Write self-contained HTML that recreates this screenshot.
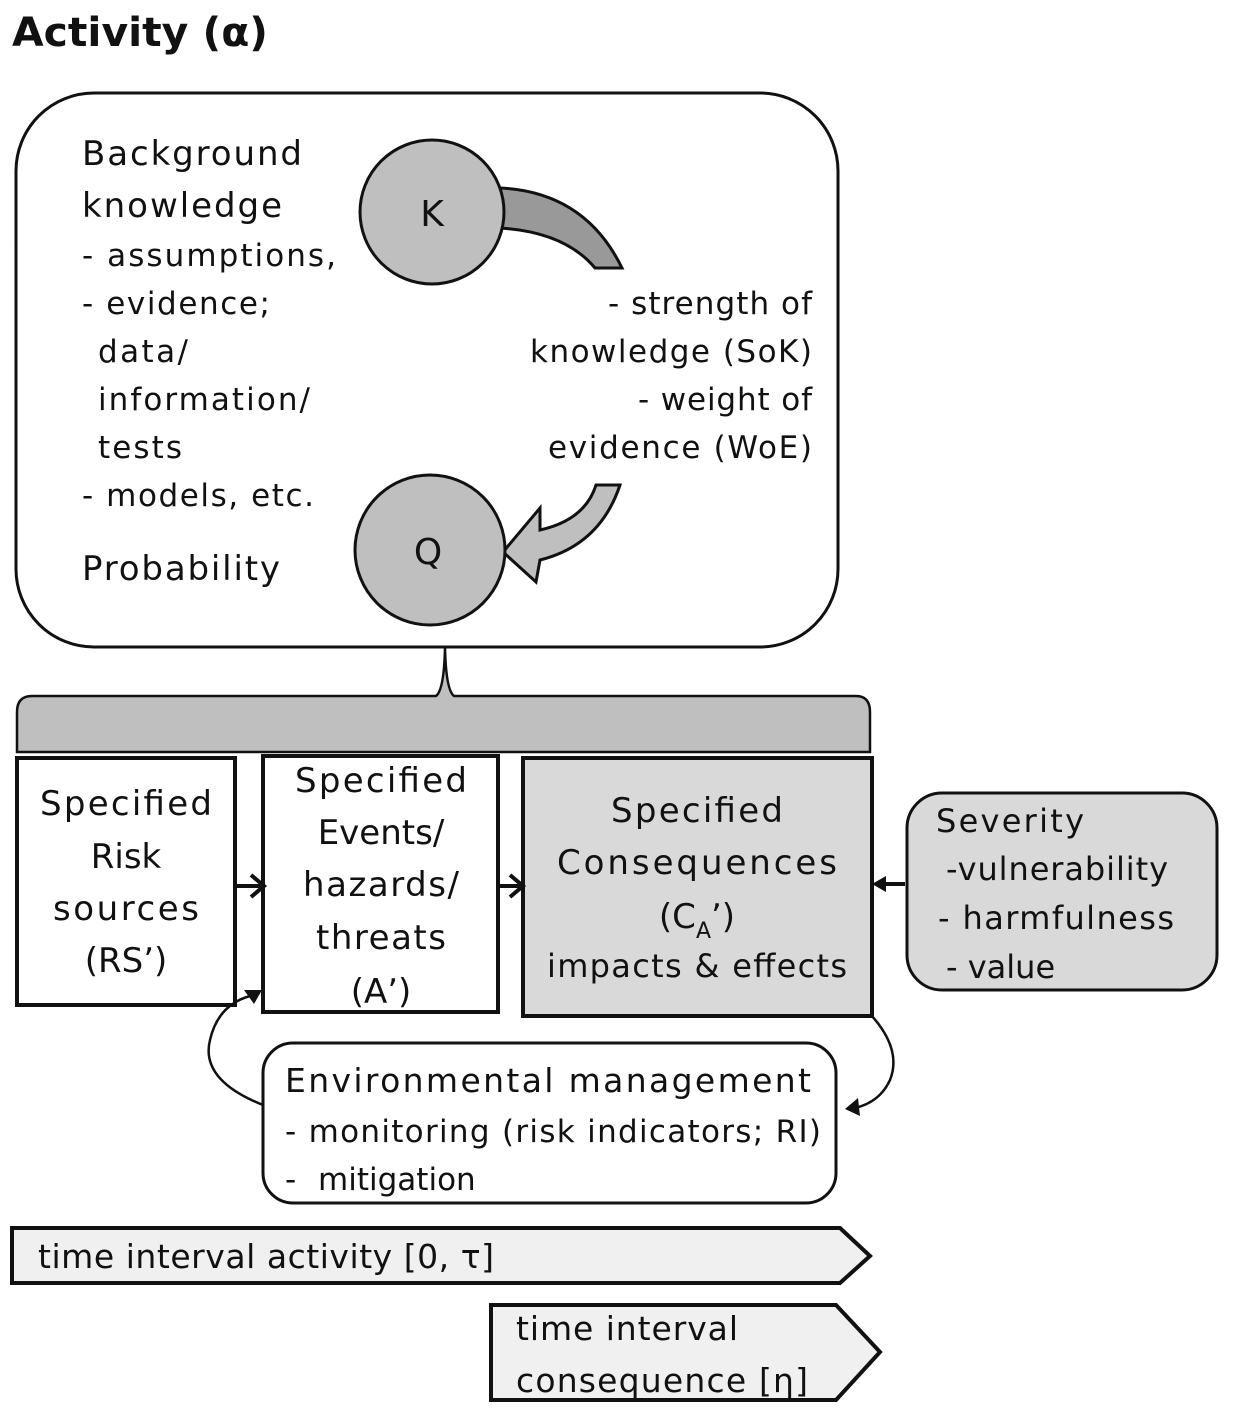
<!DOCTYPE html>
<html><head><meta charset="utf-8"><style>
html,body{margin:0;padding:0;background:#fff}
svg{display:block}
text{font-family:"DejaVu Sans","Liberation Sans",sans-serif;fill:#111}
</style></head><body>
<svg width="1240" height="1410" viewBox="0 0 1240 1410" xmlns="http://www.w3.org/2000/svg">
<text x="12" y="46" font-size="40" font-weight="bold" textLength="256" lengthAdjust="spacingAndGlyphs">Activity (α)</text>

<rect x="16" y="93" width="822" height="554" rx="78" fill="#fff" stroke="#111" stroke-width="3"/>

<g font-size="34">
<text x="82" y="165" textLength="220">Background</text>
<text x="82" y="217" textLength="200">knowledge</text>
<text x="82" y="266" font-size="31" textLength="254">- assumptions,</text>
<text x="82" y="314" font-size="31" textLength="188">- evidence;</text>
<text x="98" y="362" font-size="31" textLength="90">data/</text>
<text x="98" y="410" font-size="31" textLength="212">information/</text>
<text x="98" y="458" font-size="31" textLength="84">tests</text>
<text x="82" y="506" font-size="31" textLength="232">- models, etc.</text>
<text x="82" y="580" textLength="198">Probability</text>
</g>
<g font-size="31" text-anchor="end">
<text x="812" y="314" textLength="204">- strength of</text>
<text x="812" y="362" textLength="282">knowledge (SoK)</text>
<text x="812" y="410" textLength="174">- weight of</text>
<text x="812" y="458" textLength="264">evidence (WoE)</text>
</g>

<path d="M500,188 Q585,192 622,268 L595,268 Q565,232 500,228 Z" fill="#999" stroke="#111" stroke-width="3"/>
<circle cx="432" cy="212" r="72" fill="#bfbfbf" stroke="#111" stroke-width="3"/>
<text x="432" y="226" font-size="36" text-anchor="middle">K</text>

<path d="M620,485 Q600,545 540,560 L536,582 L503,552 L540,508 L540,530 Q585,520 596,485 Z" fill="#bfbfbf" stroke="#111" stroke-width="3"/>
<circle cx="430" cy="550" r="75" fill="#bfbfbf" stroke="#111" stroke-width="3"/>
<text x="428" y="564" font-size="36" text-anchor="middle">Q</text>

<path d="M17,752 L17,712 Q17,696 32,696 L436,696 Q444,690 445,648 Q446,690 454,696 L856,696 Q870,696 870,712 L870,752 Z" fill="#bfbfbf" stroke="#111" stroke-width="2.5"/>

<rect x="17" y="758" width="218" height="247" fill="#fff" stroke="#111" stroke-width="4"/>
<rect x="263" y="756" width="235" height="256" fill="#fff" stroke="#111" stroke-width="4"/>
<rect x="523" y="758" width="349" height="258" fill="#d9d9d9" stroke="#111" stroke-width="4"/>
<g font-size="34" text-anchor="middle">
<text x="126" y="815" textLength="172">Specified</text>
<text x="126" y="868">Risk</text>
<text x="126" y="920" textLength="146">sources</text>
<text x="126" y="972">(RS’)</text>
<text x="381" y="792" textLength="172">Specified</text>
<text x="381" y="844">Events/</text>
<text x="381" y="896" textLength="156">hazards/</text>
<text x="381" y="949" textLength="130">threats</text>
<text x="381" y="1003">(A’)</text>
<text x="697" y="822" textLength="172">Specified</text>
<text x="697" y="874" textLength="280">Consequences</text>
<text x="697" y="928">(C<tspan font-size="22" dy="10">A</tspan><tspan dy="-10">’)</tspan></text>
<text x="697" y="977" font-size="32" textLength="300">impacts &amp; effects</text>
</g>

<rect x="907" y="793" width="310" height="197" rx="35" fill="#d9d9d9" stroke="#111" stroke-width="3"/>
<g font-size="32">
<text x="936" y="832" textLength="148">Severity</text>
<text x="946" y="880" textLength="222">-vulnerability</text>
<text x="938" y="929" textLength="236">- harmfulness</text>
<text x="946" y="978">- value</text>
</g>

<g stroke="#111" stroke-width="4" fill="none">
<path d="M237,886 L263,886 M251,875 L264,886 L251,897"/>
<path d="M500,886 L523,886 M510,875 L523,886 L510,897"/>
<path d="M905,884 L878,884"/>
</g>
<path d="M872,884 L886,876 L886,892 Z" fill="#111"/>

<rect x="263" y="1043" width="573" height="160" rx="30" fill="#fff" stroke="#111" stroke-width="3"/>
<g font-size="33">
<text x="285" y="1092" textLength="526">Environmental management</text>
<text x="285" y="1142" font-size="31" textLength="536">- monitoring (risk indicators; RI)</text>
<text x="285" y="1190" font-size="31">-  <tspan dx="12">mitigation</tspan></text>
</g>
<g stroke="#111" stroke-width="2.5" fill="none">
<path d="M263,1105 Q200,1080 210,1040 Q218,1005 250,996"/>
<path d="M872,1016 Q902,1050 890,1080 Q880,1102 855,1108"/>
</g>
<path d="M262,990 L244,990 L254,1004 Z" fill="#111"/>
<path d="M845,1109 L858,1098 L860,1116 Z" fill="#111"/>

<path d="M12,1228 L840,1228 L870,1256 L840,1283 L12,1283 Z" fill="#f0f0f0" stroke="#111" stroke-width="4"/>
<text x="38" y="1268" font-size="33" textLength="456">time interval activity [0, τ]</text>
<path d="M491,1305 L836,1305 L880,1352 L836,1400 L491,1400 Z" fill="#f0f0f0" stroke="#111" stroke-width="4"/>
<text x="516" y="1340" font-size="33" textLength="222">time interval</text>
<text x="516" y="1392" font-size="33" textLength="292">consequence [η]</text>
</svg>
</body></html>
